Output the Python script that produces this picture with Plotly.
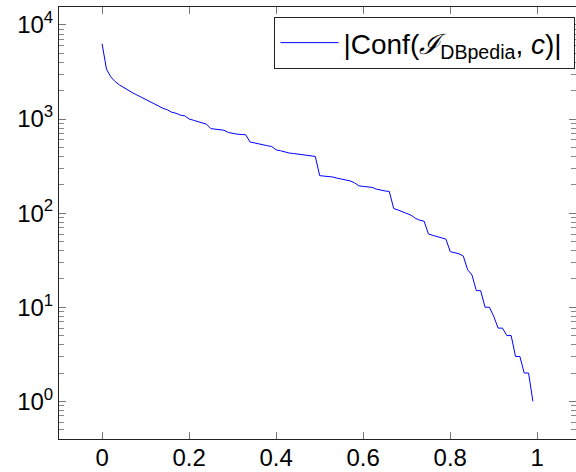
import plotly.graph_objects as go

x_vals = [i / 100 for i in range(100)]
conf_sizes = [
    6300, 3400, 2800, 2500, 2300, 2150, 2050, 1900, 1800, 1700,
    1630, 1530, 1440, 1380, 1300, 1250, 1180, 1150, 1100, 1080,
    1000, 970, 940, 900, 880, 790, 780, 770, 760, 720,
    700, 690, 685, 680, 570, 555, 540, 530, 520, 510,
    470, 460, 445, 435, 430, 425, 415, 410, 405, 400,
    250, 248, 245, 242, 235, 230, 225, 220, 210, 195,
    192, 190, 188, 180, 175, 172, 170, 112, 108, 104,
    100, 95, 88, 84, 82, 60, 58, 56, 54, 53,
    39, 38, 37, 35, 25, 22, 15, 15, 10, 10,
    8, 6, 6, 5, 5, 3, 3, 2, 2, 1,
]
y_tick_vals = [1, 10, 100, 1000, 10000]
y_tick_text = ["10<sup>0</sup>", "10<sup>1</sup>", "10<sup>2</sup>", "10<sup>3</sup>", "10<sup>4</sup>"]
x_tick_vals = [0, 0.2, 0.4, 0.6, 0.8, 1]
x_tick_text = ["0", "0.2", "0.4", "0.6", "0.8", "1"]
series_name = "|Conf(<i>ℐ</i><sub>DBpedia</sub>, <i>c</i>)|&nbsp;"

# minor log ticks (2..9 per decade)
y_minor_vals = [m * 10 ** e for e in range(-1, 5) for m in range(2, 10)]

FONT = "Liberation Sans"

fig = go.Figure()
fig.add_trace(go.Scatter(
    x=x_vals, y=conf_sizes, mode="lines", name=series_name,
    line=dict(color="#0000ff", width=1),
))

fig.update_layout(
    template="none",
    width=576, height=472,
    margin=dict(l=59, r=0, t=7, b=33),
    paper_bgcolor="white", plot_bgcolor="white",
    font=dict(family=FONT, size=24, color="black"),
    showlegend=True,
    legend=dict(
        x=0.999, y=0.977, xanchor="right", yanchor="top",
        bordercolor="#222", borderwidth=1, bgcolor="white",
        font=dict(family=FONT, size=28, color="black"),
        itemwidth=58, tracegroupgap=0,
    ),
)
fig.update_xaxes(
    range=[-0.099, 1.089],
    tickmode="array", tickvals=x_tick_vals, ticktext=x_tick_text,
    ticks="inside", ticklen=7, tickcolor="#777", tickwidth=1,
    ticklabelstandoff=-3,
    showline=True, linecolor="#222", linewidth=1, mirror="allticks",
    showgrid=False, zeroline=False,
)
fig.update_yaxes(
    type="log", range=[-0.40, 4.19],
    tickmode="array", tickvals=y_tick_vals, ticktext=y_tick_text,
    ticks="inside", ticklen=7, tickcolor="#777", tickwidth=1,
    showline=True, linecolor="#222", linewidth=1, mirror="allticks",
    showgrid=False, zeroline=False,
    minor=dict(ticks="inside", ticklen=5, tickcolor="#888", tickwidth=1,
               tickmode="array", tickvals=y_minor_vals, showgrid=False),
)

fig.write_html("out.html")
